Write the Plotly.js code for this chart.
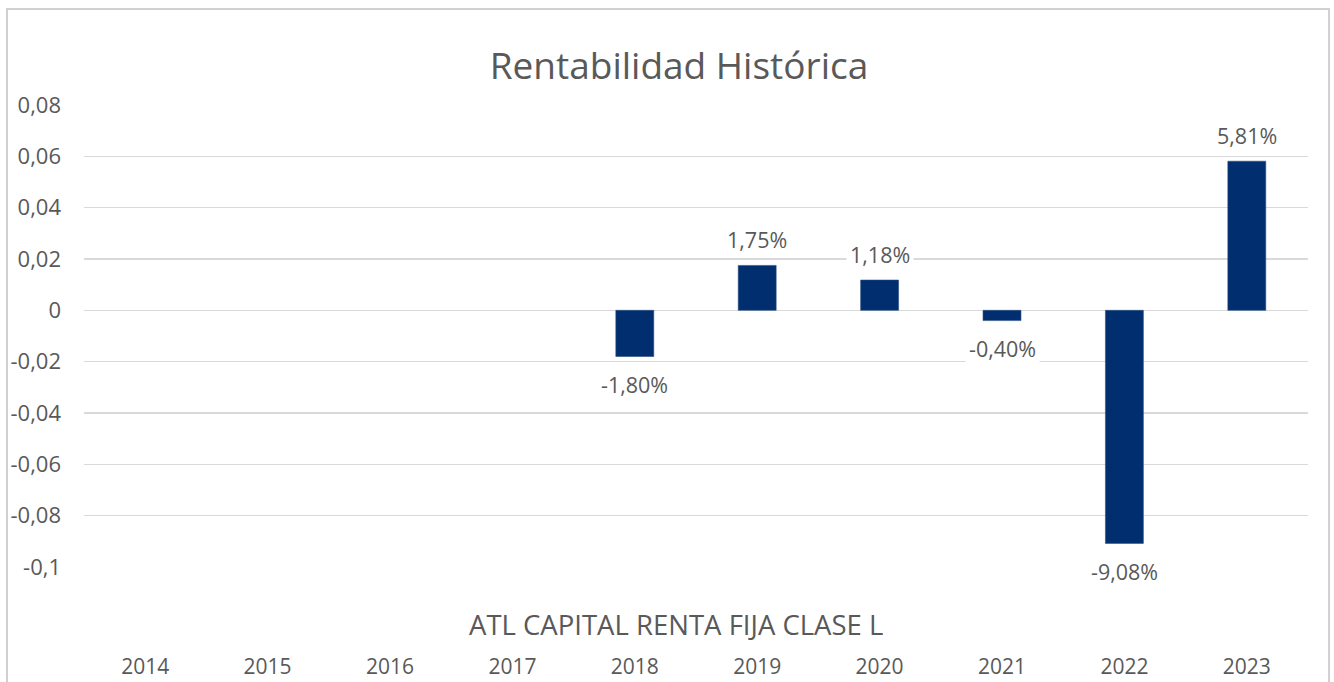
<!DOCTYPE html>
<html>
<head>
<meta charset="utf-8">
<script src="https://cdn.plot.ly/plotly-3.0.1.min.js"></script>
<style>html,body{margin:0;padding:0;background:#fff;}#chart{width:1334px;height:682px;}</style>
</head>
<body>
<div id="chart"></div>
<script>
const years = ['2014','2015','2016','2017','2018','2019','2020','2021','2022','2023'];
const returns = [null, null, null, null, -0.0180, 0.0175, 0.0118, -0.0040, -0.0908, 0.0581];
const labels = ['', '', '', '', '-1,80%', '1,75%', '1,18%', '-0,40%', '-9,08%', '5,81%'];
const yTickVals = [0.08, 0.06, 0.04, 0.02, 0, -0.02, -0.04, -0.06, -0.08, -0.1];
const yTickText = ['0,08', '0,06', '0,04', '0,02', '0', '-0,02', '-0,04', '-0,06', '-0,08', '-0,1'];
const seriesName = 'ATL CAPITAL RENTA FIJA CLASE L';
const chartTitle = 'Rentabilidad Histórica';

const FONT = '"Open Sans", sans-serif';
const GREY = '#595959';

const trace = {
  type: 'bar',
  x: years,
  y: returns,
  name: seriesName,
  marker: {color: '#002E6E', line: {color: '#2a4f85', width: 0.6}},
  width: 0.31,
  hoverinfo: 'x+y'
};

const annotations = [];
years.forEach((yr, i) => {
  if (returns[i] === null) return;
  const pos = returns[i] >= 0;
  annotations.push({
    x: i, y: returns[i], xref: 'x', yref: 'y',
    text: labels[i], showarrow: false,
    yanchor: 'middle', yshift: pos ? 26 : -28,
    bgcolor: '#ffffff', borderpad: 3,
    font: {family: FONT, size: 21.5, color: GREY}
  });
});
annotations.push({
  x: 0.484, y: -0.1255, xref: 'paper', yref: 'paper',
  text: seriesName, showarrow: false, xanchor: 'center', yanchor: 'middle',
  font: {family: FONT, size: 27.5, color: GREY}
});

const layout = {
  width: 1334, height: 682,
  margin: {l: 84, r: 26, t: 105, b: 115},
  paper_bgcolor: '#ffffff', plot_bgcolor: '#ffffff',
  showlegend: false,
  title: {
    text: chartTitle, x: 0.509, y: 0.903, xanchor: 'center', yanchor: 'middle',
    xref: 'container', yref: 'container',
    font: {family: FONT, size: 37, color: GREY}
  },
  xaxis: {
    type: 'category', categoryorder: 'array', categoryarray: years,
    range: [-0.5, 9.5],
    showgrid: false, zeroline: false, showline: false, ticks: '',
    ticklabelstandoff: 85,
    tickfont: {family: FONT, size: 21, color: GREY},
    fixedrange: true
  },
  yaxis: {
    range: [-0.1, 0.08],
    tickvals: yTickVals, ticktext: yTickText,
    showgrid: true, gridcolor: '#d9d9d9', gridwidth: 1.5,
    zeroline: true, zerolinecolor: '#d9d9d9', zerolinewidth: 1.5,
    showline: false, ticks: '',
    ticklabelstandoff: 22,
    tickfont: {family: FONT, size: 22, color: GREY},
    fixedrange: true
  },
  annotations: annotations,
  shapes: [{
    type: 'rect', xref: 'paper', yref: 'paper',
    x0: -0.0629, x1: 1.0172, y0: -0.29, y1: 1.2078,
    line: {color: '#d0d0d0', width: 2}, fillcolor: 'rgba(0,0,0,0)', layer: 'below'
  }]
};

Plotly.newPlot('chart', [trace], layout, {displayModeBar: false, staticPlot: true});
</script>
</body>
</html>
